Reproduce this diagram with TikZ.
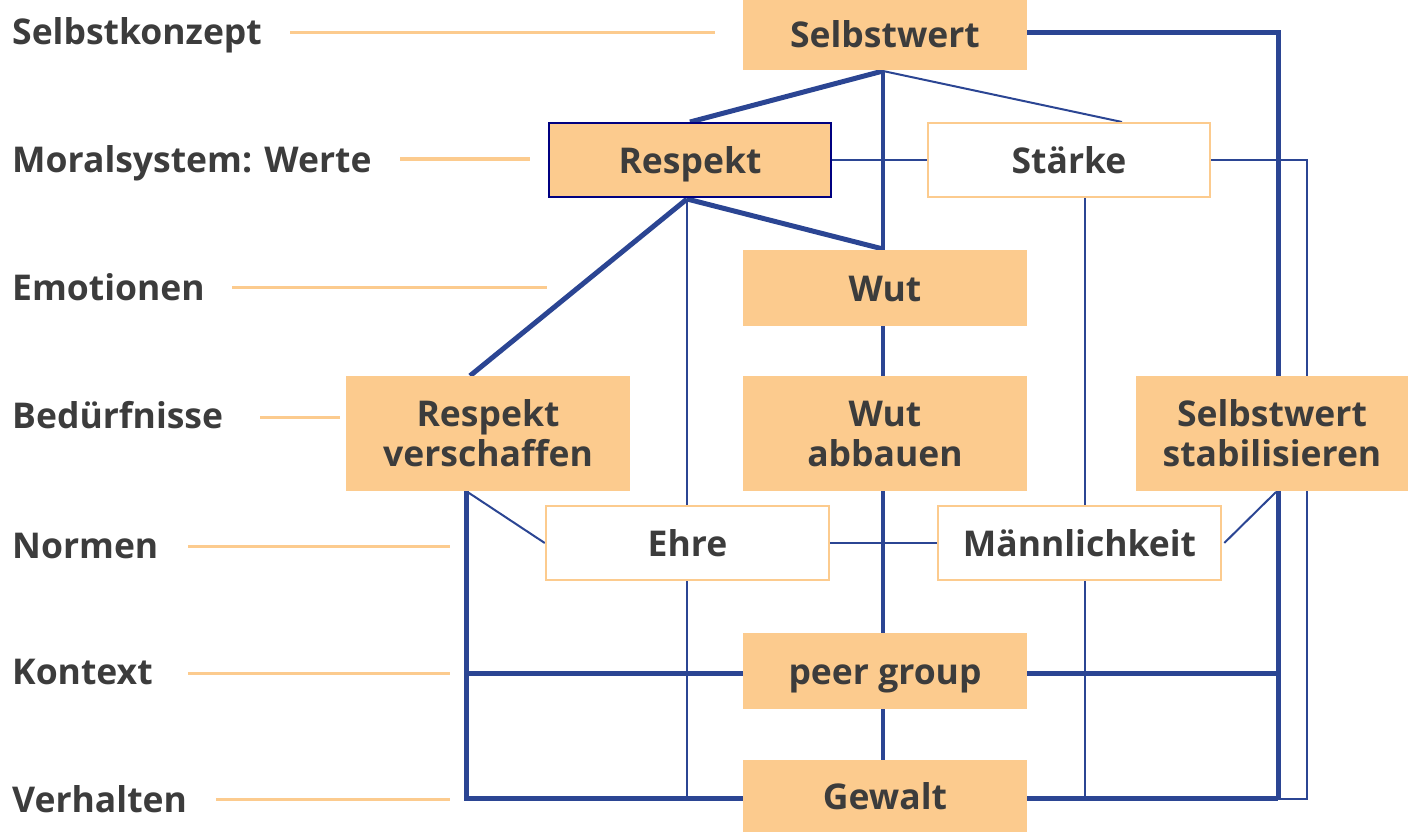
\documentclass[tikz,border=0pt]{standalone}
\usepackage{fontspec}
\setmainfont{Open Sans}
\usetikzlibrary{backgrounds}
\definecolor{boxor}{HTML}{FCCB8E}
\definecolor{lnblue}{HTML}{2B4593}
\definecolor{txt}{HTML}{3C3C3C}
\definecolor{navy}{HTML}{000080}
\tikzset{
  lbl/.style={anchor=west, inner sep=0pt, text=txt, text height=30pt, text depth=4pt, font=\fontsize{35.5}{40}\selectfont\bfseries},
  box/.style={rectangle, inner sep=0pt, text=txt, align=center, font=\fontsize{35.5}{40}\selectfont\bfseries},
  onel/.style={text height=30pt, text depth=4pt},
  filled/.style={box, fill=boxor},
  hollow/.style={box, fill=white, draw=boxor, line width=2.5pt},
  guide/.style={draw=boxor, line width=3pt},
  thickln/.style={draw=lnblue, line width=5pt},
  midln/.style={draw=lnblue, line width=3.5pt},
  thinln/.style={draw=lnblue, line width=2pt},
}
\begin{document}
\begin{tikzpicture}[x=1pt,y=-1pt]
\useasboundingbox (0,0) rectangle (1408,832);
% labels
\node[lbl] (l1) at (12,32) {Selbstkonzept};
\node[lbl] (l2) at (12,159) {Moralsystem: Werte};
\node[lbl] (l3) at (12,287) {Emotionen};
\node[lbl] (l4) at (12,415) {Bedürfnisse};
\node[lbl] (l5) at (12,545) {Normen};
\node[lbl] (l6) at (12,671) {Kontext};
\node[lbl] (l7) at (12,799) {Verhalten};
% boxes
\node[filled, onel, minimum width=284, minimum height=70] (sw) at (885,35) {Selbstwert};
\node[filled, onel, draw=navy, line width=2pt, minimum width=282, minimum height=74] (resp) at (690,160) {Respekt};
\node[hollow, onel, minimum width=282, minimum height=74] (staerke) at (1069,160) {Stärke};
\node[filled, onel, minimum width=284, minimum height=76] (wut) at (885,288) {Wut};
\node[filled, minimum width=284, minimum height=115] (rv) at (488,433.5) {Respekt\\verschaffen};
\node[filled, minimum width=284, minimum height=115] (wa) at (885,433.5) {Wut\\abbauen};
\node[filled, minimum width=272, minimum height=115] (ss) at (1272,433.5) {Selbstwert\\stabilisieren};
\node[hollow, onel, minimum width=283, minimum height=74] (ehre) at (687.5,543) {Ehre};
\node[hollow, onel, minimum width=283, minimum height=74] (mann) at (1079.5,543) {Männlichkeit};
\node[filled, onel, minimum width=284, minimum height=76] (peer) at (885,671) {peer group};
\node[filled, onel, minimum width=284, minimum height=72] (gewalt) at (885,796) {Gewalt};
% coordinates
\coordinate (g1a) at (290,33); \coordinate (g1b) at (715,33);
\coordinate (g2a) at (400,159); \coordinate (g2b) at (530,159);
\coordinate (g3a) at (232,287); \coordinate (g3b) at (547,287);
\coordinate (g4a) at (260,417); \coordinate (g4b) at (340,417);
\coordinate (g5a) at (188,546); \coordinate (g5b) at (450,546);
\coordinate (g6a) at (188,673); \coordinate (g6b) at (450,673);
\coordinate (g7a) at (216,799); \coordinate (g7b) at (450,799);
\coordinate (swtr) at (1278,33);
\coordinate (swbr) at (1278,798);
\coordinate (stt) at (1122,122);
\coordinate (rvl) at (466,491);
\coordinate (bl) at (466,798);
\coordinate (kl) at (466,673);
\coordinate (kr) at (1278,673);
\coordinate (rb) at (687,199);
\coordinate (rbb) at (687,798);
\coordinate (sb) at (1085,198);
\coordinate (sbb) at (1085,798);
\coordinate (str) at (1307,160);
\coordinate (strb) at (1307,799);
\coordinate (ssb) at (1276,492);
\coordinate (swb) at (883,71);
\coordinate (wutt) at (883,249);
\begin{scope}[on background layer]
\draw[guide] (g1a) -- (g1b);
\draw[guide] (g2a) -- (g2b);
\draw[guide] (g3a) -- (g3b);
\draw[guide] (g4a) -- (g4b);
\draw[guide] (g5a) -- (g5b);
\draw[guide] (g6a) -- (g6b);
\draw[guide] (g7a) -- (g7b);
% structure
\draw[thickln] (sw.east |- swtr) -- (swtr) -- (swbr);
\draw[thickln] (swb) -- (resp.north);
\draw[midln] (swb) -- (gewalt.north -| swb);
\draw[thinln] (swb) -- (stt);
\draw[thinln] (resp.east) -- (staerke.west);
\draw[thinln] (staerke.east) -- (str) -- (strb) -- (swbr |- strb);
\draw[thickln] (rb) -- (wutt);
\draw[thickln] (rb) -- (rv.north -| 470,0);
\draw[thinln] (rb) -- (rbb);
\draw[thinln] (sb) -- (sbb);
\draw[thickln] (rvl) -- (bl) -- (swbr);
\draw[thickln] (kl) -- (kr);
\draw[thinln] (rvl) -- (ehre.west);
\draw[thinln] (ehre.east) -- (mann.west);
\draw[thinln] ([xshift=2pt]mann.east) -- (ssb);
\end{scope}
\end{tikzpicture}
\end{document}
